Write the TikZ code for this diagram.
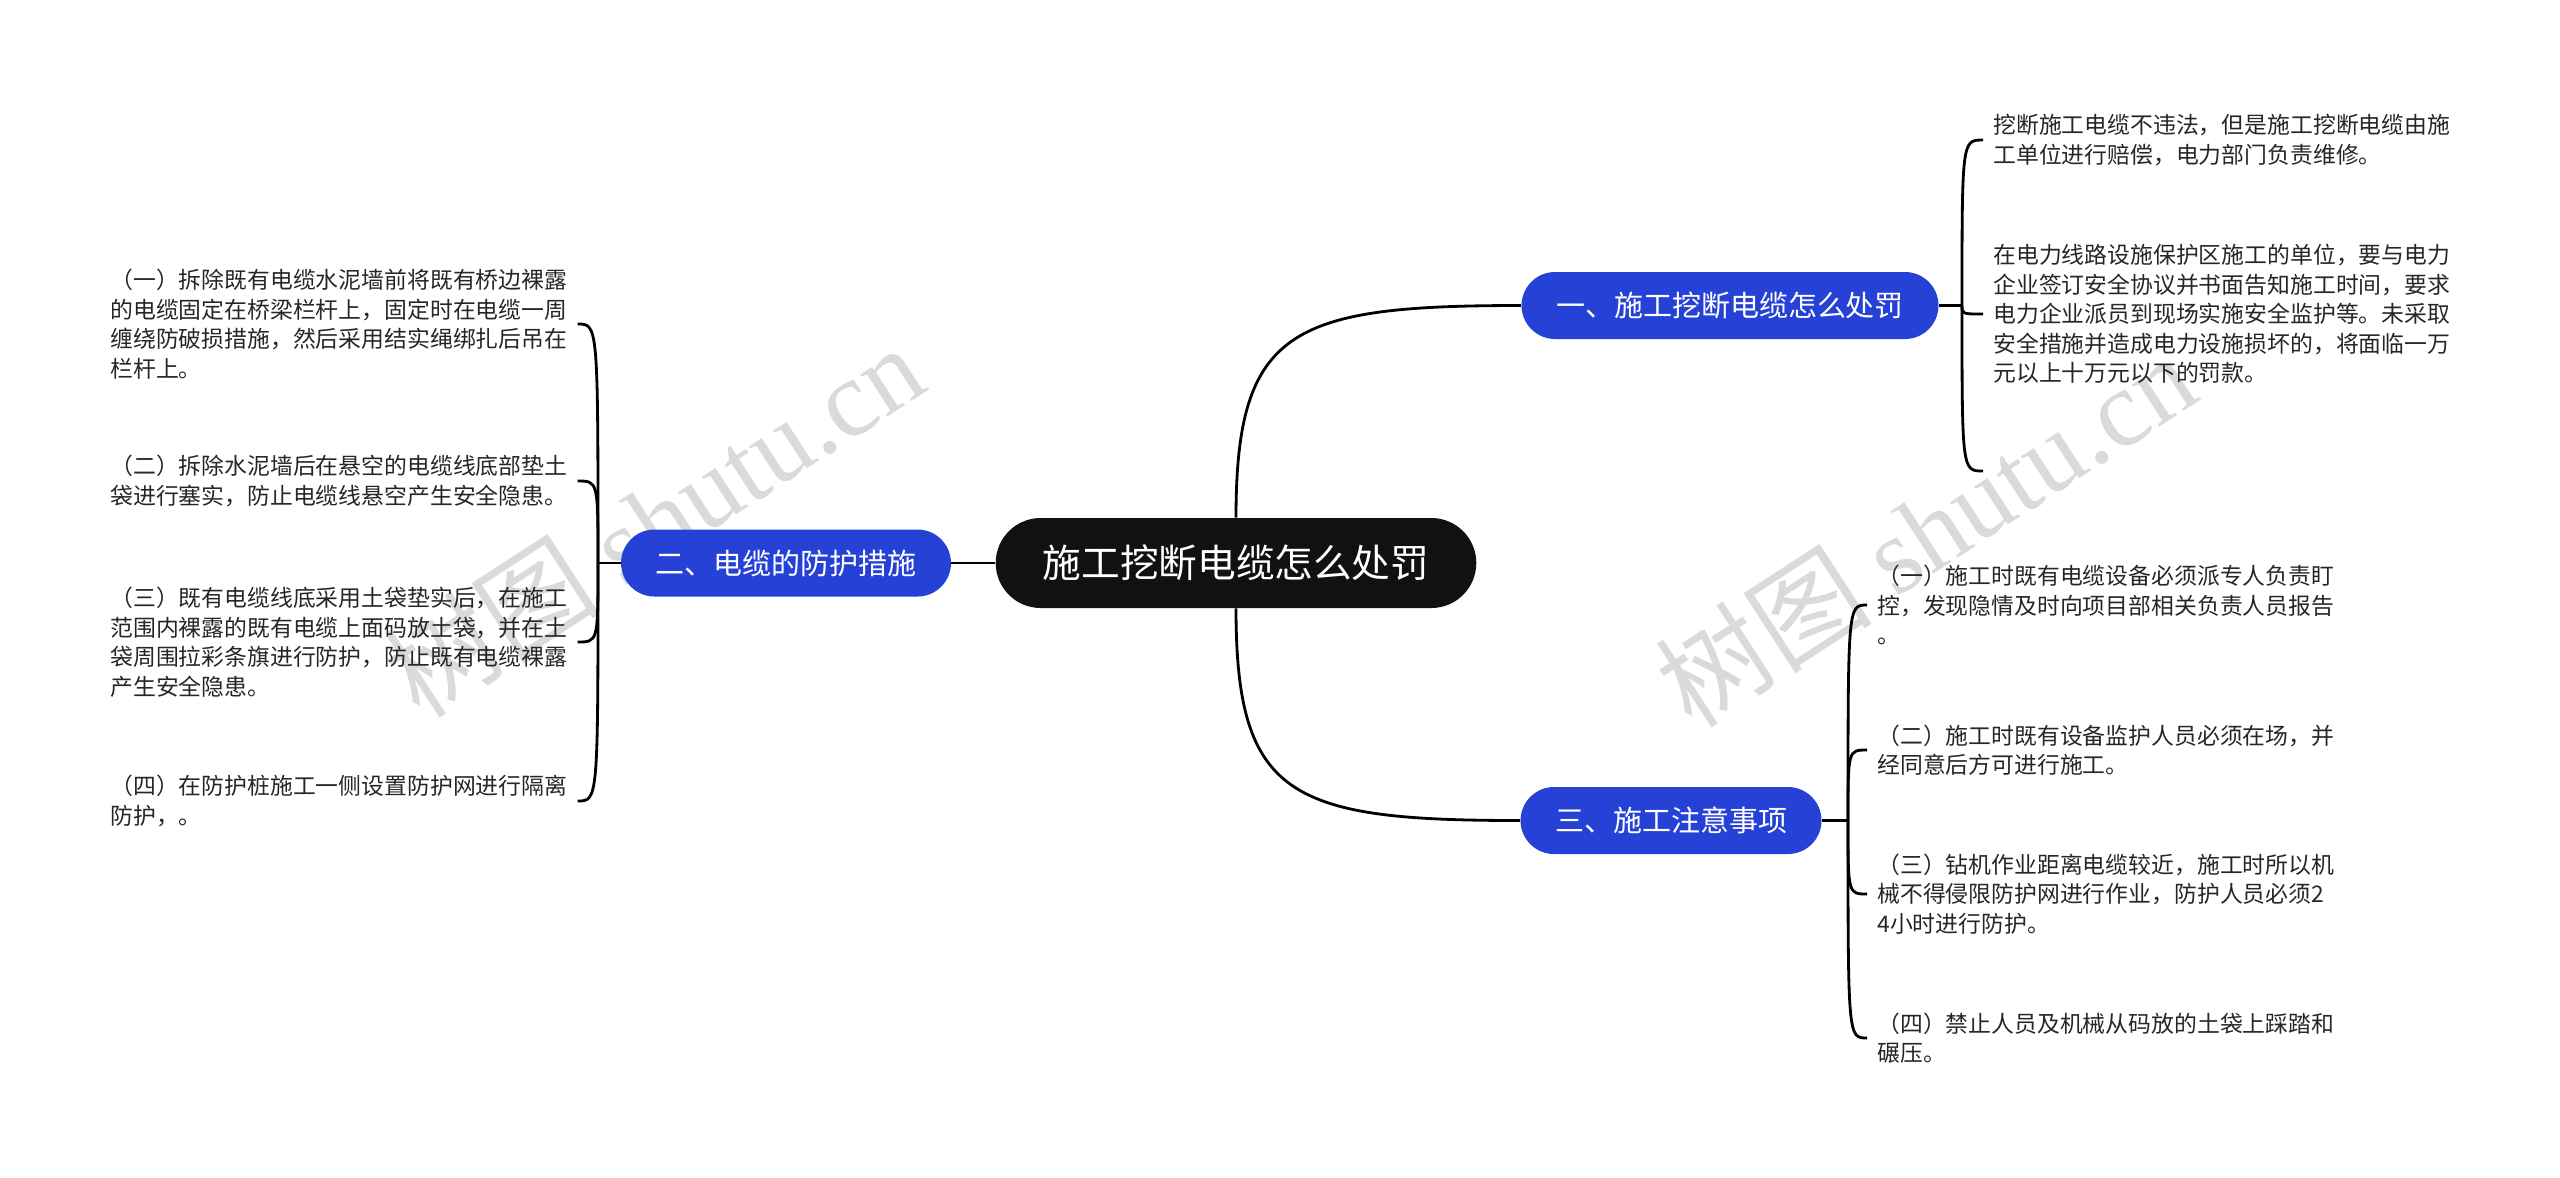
\documentclass[tikz,border=0pt]{standalone}
\usepackage{fontspec}
\setmainfont{Noto Sans CJK SC}
\newfontfamily\wmserif{Liberation Serif}
\usetikzlibrary{positioning}

\definecolor{branchblue}{RGB}{38,65,214}
\definecolor{rootblack}{RGB}{17,17,17}
\definecolor{marklight}{RGB}{218,218,218}

\begin{document}
\begin{tikzpicture}[
    rootnode/.style={fill=rootblack, text=white, rounded corners=0.9cm, minimum height=1.8cm, inner xsep=0.94cm, inner ysep=0pt, font=\fontsize{22pt}{26pt}\selectfont},
    branchnode/.style={fill=branchblue, text=white, rounded corners=0.67cm, minimum height=1.34cm, inner xsep=0.69cm, inner ysep=0pt, font=\fontsize{16.5pt}{20pt}\selectfont},
    leafnode/.style={align=left, inner xsep=0.2cm, inner ysep=0pt, text=black!85, font=\fontsize{13pt}{16.8pt}\selectfont},
    wmark/.style={text=marklight, rotate=33, font=\fontsize{62pt}{70pt}\selectfont},
    joinline/.style={line width=1.6pt, black}
]
            \useasboundingbox (0, 0) rectangle (51.2, -23.54);

            % watermark
            \node[wmark] (wmleft) at (13.06, -10.4) {树图 {\wmserif shutu.cn}};
            \node[wmark] (wmright) at (38.5, -10.6) {树图 {\wmserif shutu.cn}};

            % centre and branches
            \node[rootnode] (root) at (24.72, -11.26) {施工挖断电缆怎么处罚};
            \node[branchnode] (b1) at (34.6, -6.11) {一、施工挖断电缆怎么处罚};
            \node[branchnode] (b2) at (15.72, -11.26) {二、电缆的防护措施};
            \node[branchnode] (b3) at (33.42, -16.41) {三、施工注意事项};

            % left leaves
            \node[leafnode, anchor=west] (l1) at (2.0, -6.48) {（一）拆除既有电缆水泥墙前将既有桥边裸露\\的电缆固定在桥梁栏杆上，固定时在电缆一周\\缠绕防破损措施，然后采用结实绳绑扎后吊在\\栏杆上。};
            \node[leafnode, anchor=west] (l2) at (2.0, -9.62) {（二）拆除水泥墙后在悬空的电缆线底部垫土\\袋进行塞实，防止电缆线悬空产生安全隐患。};
            \node[leafnode, anchor=west] (l3) at (2.0, -12.84) {（三）既有电缆线底采用土袋垫实后，在施工\\范围内裸露的既有电缆上面码放土袋，并在土\\袋周围拉彩条旗进行防护，防止既有电缆裸露\\产生安全隐患。};
            \node[leafnode, anchor=west] (l4) at (2.0, -16.02) {（四）在防护桩施工一侧设置防护网进行隔离\\防护，。};

            % right leaves
            \node[leafnode, anchor=west] (r1) at (39.66, -2.8) {挖断施工电缆不违法，但是施工挖断电缆由施\\工单位进行赔偿，电力部门负责维修。};
            \node[leafnode, anchor=west] (r2) at (39.66, -6.28) {在电力线路设施保护区施工的单位，要与电力\\企业签订安全协议并书面告知施工时间，要求\\电力企业派员到现场实施安全监护等。未采取\\安全措施并造成电力设施损坏的，将面临一万\\元以上十万元以下的罚款。};
            \node[leafnode, anchor=west] (r3) at (37.34, -12.1) {（一）施工时既有电缆设备必须派专人负责盯\\控，发现隐情及时向项目部相关负责人员报告\\。};
            \node[leafnode, anchor=west] (r4) at (37.34, -15.0) {（二）施工时既有设备监护人员必须在场，并\\经同意后方可进行施工。};
            \node[leafnode, anchor=west] (r5) at (37.34, -17.88) {（三）钻机作业距离电缆较近，施工时所以机\\械不得侵限防护网进行作业，防护人员必须2\\4小时进行防护。};
            \node[leafnode, anchor=west] (r6) at (37.34, -20.76) {（四）禁止人员及机械从码放的土袋上踩踏和\\碾压。};

            \coordinate (b2j) at (11.96, -11.26);
            \coordinate (b1j) at (39.24, -6.11);
            \coordinate (b1end) at (39.66, -9.42);
            \coordinate (b3j) at (36.96, -16.41);

            \draw[joinline] (root.west) -- (b2.east);
            \draw[joinline] (root.north) .. controls +(0, 3.78) and +(-4.6, 0) .. (b1.west);
            \draw[joinline] (root.south) .. controls +(0, -3.78) and +(-4.6, 0) .. (b3.west);

            \draw[joinline] (b2.west) -- (b2j);
            \draw[joinline] (b2j) .. controls (b2j |- l1.east) .. (l1.east);
            \draw[joinline] (b2j) .. controls (b2j |- l2.east) .. (l2.east);
            \draw[joinline] (b2j) .. controls (b2j |- l3.east) .. (l3.east);
            \draw[joinline] (b2j) .. controls (b2j |- l4.east) .. (l4.east);

            \draw[joinline] (b1.east) -- (b1j);
            \draw[joinline] (b1j) .. controls (b1j |- r1.west) .. (r1.west);
            \draw[joinline] (b1j) .. controls (b1j |- r2.west) .. (r2.west);
            \draw[joinline] (b1j) .. controls (b1j |- b1end) .. (b1end);

            \draw[joinline] (b3.east) -- (b3j);
            \draw[joinline] (b3j) .. controls (b3j |- r3.west) .. (r3.west);
            \draw[joinline] (b3j) .. controls (b3j |- r4.west) .. (r4.west);
            \draw[joinline] (b3j) .. controls (b3j |- r5.west) .. (r5.west);
            \draw[joinline] (b3j) .. controls (b3j |- r6.west) .. (r6.west);
        \end{tikzpicture}
\end{document}
